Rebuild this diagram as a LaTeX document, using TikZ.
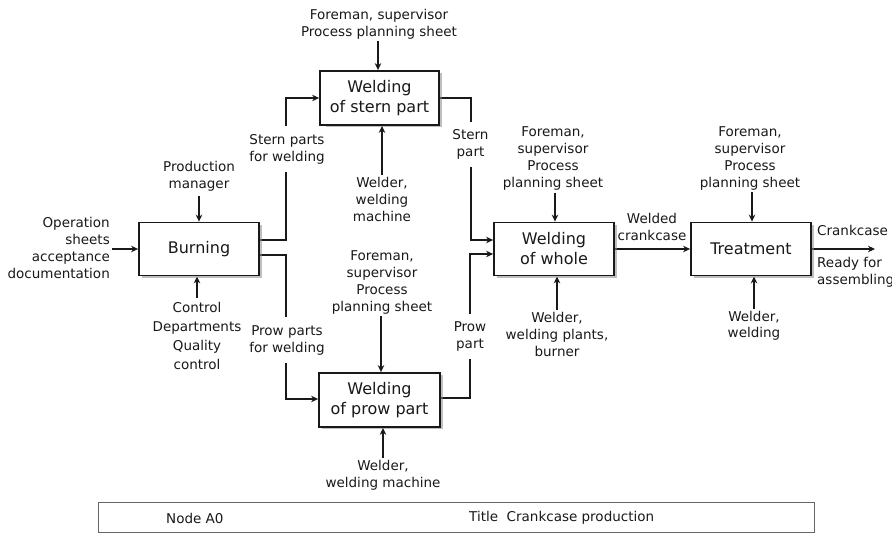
\documentclass[tikz,border=0pt]{standalone}
\usepackage{fontspec}
\setmainfont{DejaVu Sans}
\usetikzlibrary{arrows.meta,shadows,backgrounds}
\begin{document}
\begin{tikzpicture}[x=1pt,y=-1pt,
  proc/.style={draw=black!90,line width=1.8pt,fill=white,minimum width=120pt,minimum height=53pt,
    align=center,font=\fontsize{16}{20}\selectfont,inner sep=0pt,text=black!90,
    drop shadow={shadow xshift=2.5pt,shadow yshift=-2.5pt,fill=black!45,opacity=0.55}},
  lbl/.style={align=center,font=\fontsize{13.5}{17}\selectfont,text=black!90,inner sep=2pt},
  gaplbl/.style={lbl,fill=white,inner xsep=1pt,inner ysep=8pt},
  arr/.style={line width=1.6pt,draw=black!90,-{Stealth[length=7pt,width=6.5pt]}}]
\useasboundingbox (0,0) rectangle (892,534);

% boxes
\node[proc] (burn) at (199,249) {Burning};
\node[proc,minimum width=119pt,minimum height=54pt] (stern) at (379.5,98) {Welding\\of stern part};
\node[proc,minimum width=121pt,minimum height=54pt] (prow) at (379.5,400) {Welding\\of prow part};
\node[proc] (whole) at (554,249) {Welding\\of whole};
\node[proc] (treat) at (751,249) {Treatment};

% corner coordinates
\coordinate (c1) at (286,240);
\coordinate (c2) at (286,98);
\coordinate (c3) at (286,255);
\coordinate (c4) at (286,399);
\coordinate (c5) at (471,98);
\coordinate (c6) at (471,240);
\coordinate (c7) at (470,398);
\coordinate (c8) at (470,254);

% text labels
\node[lbl,anchor=east,align=right] (ops) at (112,248) {Operation\\sheets\\acceptance\\documentation};
\node[lbl] (pm) at (199,176.5) {Production\\manager};
\node[lbl,font=\fontsize{13.5}{19}\selectfont] (ctrl) at (197,336) {Control\\Departments\\Quality\\control};
\node[gaplbl] (sternlbl) at (287,149) {Stern parts\\for welding};
\node[gaplbl] (prowlbl) at (287,340) {Prow parts\\for welding};
\node[lbl] (sfore) at (379,24) {Foreman, supervisor\\Process planning sheet};
\node[lbl] (sweld) at (382,199) {Welder,\\welding\\machine};
\node[gaplbl] (sternpart) at (470.5,144.5) {Stern\\part};
\node[gaplbl] (prowpart) at (470,336.5) {Prow\\part};
\node[lbl] (wfore) at (553,158.5) {Foreman,\\supervisor\\Process\\planning sheet};
\node[lbl] (wweld) at (557,334.5) {Welder,\\welding plants,\\burner};
\node[lbl] (welded) at (652,226.5) {Welded\\crankcase};
\node[lbl] (tfore) at (750,158) {Foreman,\\supervisor\\Process\\planning sheet};
\node[lbl,font=\fontsize{13.5}{16}\selectfont] (tweld) at (754,326) {Welder,\\welding};
\node[lbl,anchor=west] (crank) at (815,230) {Crankcase};
\node[lbl,anchor=west,align=left] (ready) at (815,272) {Ready for\\assembling};
\node[lbl] (pfore) at (382,282) {Foreman,\\supervisor\\Process\\planning sheet};
\node[lbl] (pweld) at (383,475.5) {Welder,\\welding machine};
\coordinate (outend) at (875,249);

% title block
\node[draw=black!60,line width=1pt,minimum width=716pt,minimum height=30pt,inner sep=0pt] (titlebox) at (456,517.5) {};
\node[lbl,anchor=west] (nodeA) at (164,518) {Node A0};
\node[lbl,anchor=west] (titletxt) at (467,518) {Title\ \ Crankcase production};

\begin{scope}[on background layer]
\fill[white] (0,0) rectangle (892,534);
% main flow
\draw[arr] (ops.east |- burn.west) -- (burn.west);
\draw[arr] (burn.east |- c1) -- (c1) -- (c2) -- (stern.west |- c2);
\draw[arr] (burn.east |- c3) -- (c3) -- (c4) -- (prow.west |- c4);
\draw[arr] (stern.east |- c5) -- (c5) -- (c6) -- (whole.west |- c6);
\draw[arr] (prow.east |- c7) -- (c7) -- (c8) -- (whole.west |- c8);
\draw[arr] (whole.east) -- (treat.west);
\draw[arr] (treat.east) -- (outend);
% controls and mechanisms
\draw[arr] ([yshift=-2pt]pm.south) -- (pm.south |- burn.north);
\draw[arr] ([yshift=2pt]ctrl.north) -- (ctrl.north |- burn.south);
\draw[arr] ([xshift=-1pt]sfore.south) -- ([xshift=-1pt]sfore.south |- stern.north);
\draw[arr] (sweld.north) -- (sweld.north |- stern.south);
\draw[arr] ([xshift=2pt]wfore.south) -- ([xshift=2pt]wfore.south |- whole.north);
\draw[arr] (wweld.north) -- (wweld.north |- whole.south);
\draw[arr] ([xshift=2pt]tfore.south) -- ([xshift=2pt]tfore.south |- treat.north);
\draw[arr] (tweld.north) -- (tweld.north |- treat.south);
\draw[arr] ([xshift=-1pt]pfore.south) -- ([xshift=-1pt]pfore.south |- prow.north);
\draw[arr] (pweld.north) -- (pweld.north |- prow.south);
\end{scope}
\end{tikzpicture}
\end{document}
